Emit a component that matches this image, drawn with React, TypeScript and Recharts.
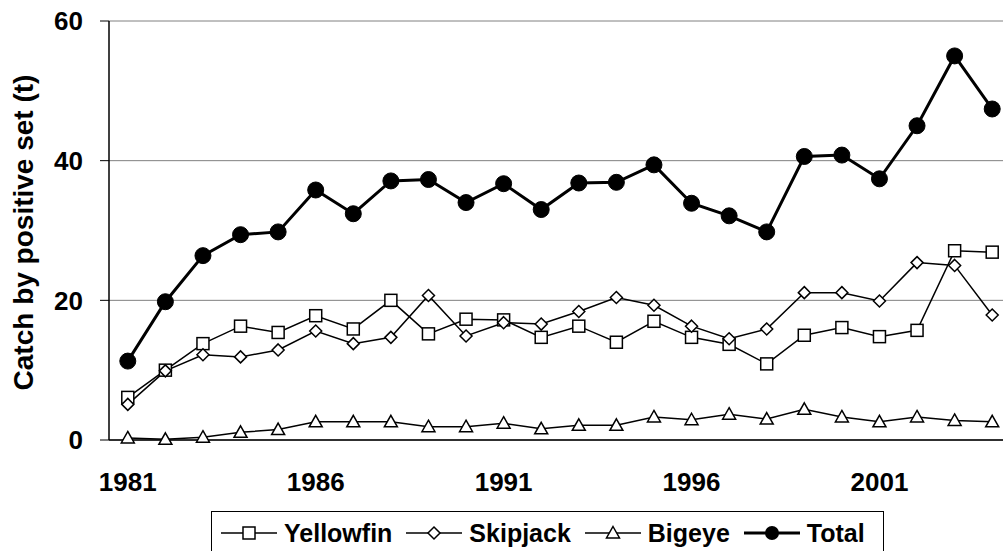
import React from 'react';
import {
  LineChart,
  Line,
  XAxis,
  YAxis,
  CartesianGrid,
  Label,
} from 'recharts';

const FONT = "Arial, 'Liberation Sans', Helvetica, sans-serif";

// years on the x axis
const years = [
  1981, 1982, 1983, 1984, 1985, 1986, 1987, 1988, 1989, 1990, 1991, 1992,
  1993, 1994, 1995, 1996, 1997, 1998, 1999, 2000, 2001, 2002, 2003, 2004,
];

// catch by positive set (t)
const yellowfin = [
  6.1, 10.0, 13.8, 16.3, 15.4, 17.8, 15.9, 20.0, 15.2, 17.3, 17.2, 14.7,
  16.3, 14.0, 17.0, 14.7, 13.7, 10.9, 15.0, 16.1, 14.8, 15.7, 27.1, 26.9,
];
const skipjack = [
  5.1, 9.9, 12.2, 11.9, 12.9, 15.6, 13.8, 14.7, 20.7, 14.9, 16.8, 16.6,
  18.4, 20.4, 19.3, 16.3, 14.5, 15.9, 21.1, 21.1, 19.9, 25.4, 25.0, 17.9,
];
const bigeye = [
  0.3, 0.1, 0.4, 1.1, 1.5, 2.6, 2.6, 2.6, 1.9, 1.9, 2.4, 1.6,
  2.1, 2.1, 3.3, 2.9, 3.7, 3.0, 4.4, 3.3, 2.6, 3.3, 2.8, 2.6,
];
const total = [
  11.3, 19.8, 26.4, 29.4, 29.8, 35.8, 32.4, 37.1, 37.3, 34.0, 36.7, 33.0,
  36.8, 36.9, 39.4, 33.9, 32.1, 29.8, 40.6, 40.8, 37.4, 45.0, 55.0, 47.4,
];

const yTicks = [0, 20, 40, 60];
const yearLabels = [1981, 1986, 1991, 1996, 2001];
// tick marks sit between the years
const yearBoundaries = [
  1980.5, 1981.5, 1982.5, 1983.5, 1984.5, 1985.5, 1986.5, 1987.5, 1988.5,
  1989.5, 1990.5, 1991.5, 1992.5, 1993.5, 1994.5, 1995.5, 1996.5, 1997.5,
  1998.5, 1999.5, 2000.5, 2001.5, 2002.5, 2003.5, 2004.5,
];

const data = years.map((year, i) => ({
  year,
  Yellowfin: yellowfin[i],
  Skipjack: skipjack[i],
  Bigeye: bigeye[i],
  Total: total[i],
}));

type MarkerKind = 'square' | 'diamond' | 'triangle' | 'circle';

function Marker({ kind, cx, cy }: { kind: MarkerKind; cx: number; cy: number }) {
  if (kind === 'square') {
    return (
      <rect x={cx - 6} y={cy - 6} width={12} height={12} fill="#fff" stroke="#000" strokeWidth={1.5} />
    );
  }
  if (kind === 'diamond') {
    return (
      <polygon
        points={`${cx},${cy - 6} ${cx + 6},${cy} ${cx},${cy + 6} ${cx - 6},${cy}`}
        fill="#fff"
        stroke="#000"
        strokeWidth={1.5}
      />
    );
  }
  if (kind === 'triangle') {
    return (
      <polygon
        points={`${cx},${cy - 6.5} ${cx + 6.5},${cy + 5} ${cx - 6.5},${cy + 5}`}
        fill="#fff"
        stroke="#000"
        strokeWidth={1.5}
      />
    );
  }
  return <circle cx={cx} cy={cy} r={8} fill="#000" stroke="#000" />;
}

const dotFor = (kind: MarkerKind) => (props: any) => {
  const { cx, cy, index } = props;
  if (cx == null || cy == null) return <g key={`${kind}-${index}`} />;
  return (
    <g key={`${kind}-${index}`}>
      <Marker kind={kind} cx={cx} cy={cy} />
    </g>
  );
};

const series: { key: string; kind: MarkerKind; width: number }[] = [
  { key: 'Yellowfin', kind: 'square', width: 1.5 },
  { key: 'Skipjack', kind: 'diamond', width: 1.5 },
  { key: 'Bigeye', kind: 'triangle', width: 1.5 },
  { key: 'Total', kind: 'circle', width: 3 },
];

function LegendIcon({ kind, width }: { kind: MarkerKind; width: number }) {
  return (
    <svg width={56} height={20} style={{ display: 'block' }}>
      <line x1={0} y1={10} x2={56} y2={10} stroke="#000" strokeWidth={width} />
      {kind === 'circle' ? (
        <circle cx={28} cy={10} r={7} fill="#000" />
      ) : (
        <Marker kind={kind} cx={28} cy={10} />
      )}
    </svg>
  );
}

const YTitle = (props: any) => {
  const vb = props.viewBox || { x: 0, y: 21, width: 109, height: 419 };
  const cx = 23;
  const cy = vb.y + vb.height / 2 + 2;
  return (
    <text
      x={cx}
      y={cy}
      transform={`rotate(-90 ${cx} ${cy})`}
      textAnchor="middle"
      dominantBaseline="central"
      fontFamily={FONT}
      fontWeight="bold"
      fontSize={28}
      fill="#000"
    >
      Catch by positive set (t)
    </text>
  );
};

export default function App() {
  const tickStyle = { fontFamily: FONT, fontWeight: 'bold', fontSize: 26, fill: '#000' };
  return (
    <div
      style={{
        position: 'absolute',
        left: 0,
        top: 0,
        width: 1003,
        height: 551,
        overflow: 'hidden',
        background: '#fff',
      }}
    >
      <LineChart
        width={1020}
        height={551}
        data={data}
        margin={{ top: 21, right: 9, bottom: 0, left: 0 }}
      >
        <CartesianGrid horizontal vertical={false} stroke="#808080" strokeWidth={1} />
        <XAxis
          xAxisId={0}
          type="number"
          dataKey="year"
          domain={[1980.5, 2004.5]}
          allowDataOverflow
          ticks={yearBoundaries}
          tick={false}
          tickSize={9}
          height={1}
          axisLine={{ stroke: '#000', strokeWidth: 1.5 }}
          tickLine={{ stroke: '#000', strokeWidth: 1 }}
        />
        <XAxis
          xAxisId={1}
          type="number"
          dataKey="year"
          domain={[1980.5, 2004.5]}
          allowDataOverflow
          ticks={yearLabels}
          interval={0}
          axisLine={false}
          tickLine={false}
          tickSize={6}
          tickMargin={26}
          height={110}
          tick={tickStyle}
        />
        <YAxis
          type="number"
          domain={[0, 60]}
          ticks={yTicks}
          width={109}
          tickSize={9}
          tickMargin={17}
          axisLine={{ stroke: '#000', strokeWidth: 1.5 }}
          tickLine={{ stroke: '#000', strokeWidth: 1 }}
          tick={tickStyle}
        >
          <Label content={YTitle} />
        </YAxis>
        {series.map((s) => (
          <Line
            key={s.key}
            xAxisId={1}
            type="linear"
            dataKey={s.key}
            stroke="#000"
            strokeWidth={s.width}
            dot={dotFor(s.kind)}
            activeDot={false}
            isAnimationActive={false}
          />
        ))}
      </LineChart>
      <div
        style={{
          position: 'absolute',
          left: 211,
          top: 511,
          width: 673,
          height: 44,
          border: '1px solid #000',
          boxSizing: 'border-box',
          display: 'flex',
          alignItems: 'center',
          paddingLeft: 9,
          fontFamily: FONT,
          fontWeight: 'bold',
          fontSize: 25,
          color: '#000',
        }}
      >
        {series.map((s) => (
          <div key={s.key} style={{ display: 'flex', alignItems: 'center', marginRight: 14 }}>
            <LegendIcon kind={s.kind} width={s.width} />
            <span style={{ marginLeft: 7 }}>{s.key}</span>
          </div>
        ))}
      </div>
    </div>
  );
}
